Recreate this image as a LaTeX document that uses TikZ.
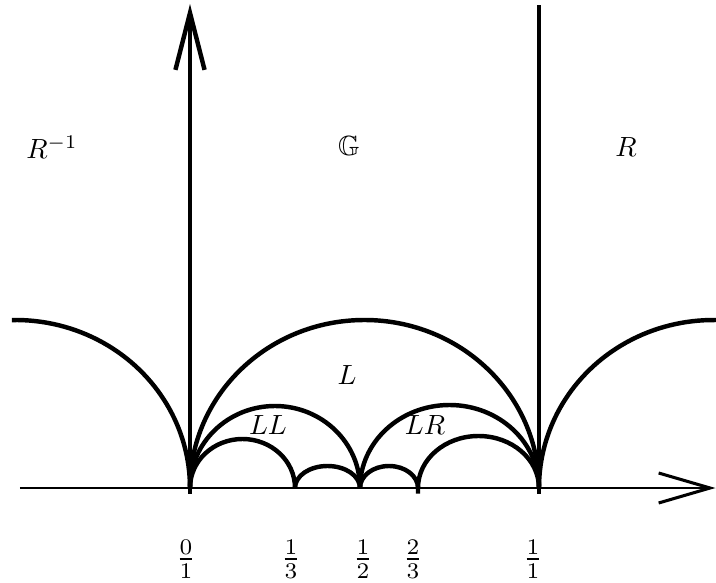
\documentclass[tikz,border=0pt]{standalone}
\usepackage{amsmath,amssymb}
\usetikzlibrary{arrows.meta}

\begin{document}
\begin{tikzpicture}[
  x=0.36pt,y=0.36pt,
  geod/.style={line width=1.6pt},
  axis/.style={line width=0.9pt,-{Straight Barb[length=18.5pt,width=10.8pt,line width=1.1pt]}},
  yaxis/.style={line width=1.6pt,-{Straight Barb[length=20.5pt,width=10.5pt]}},
  lbl/.style={inner sep=0pt},
  frac/.style={inner sep=0pt,scale=1.15}
]
\useasboundingbox (-190,-94) rectangle (526,488);

% points on the real line
\coordinate (p0) at (0,0);
\coordinate (p13) at (105,0);
\coordinate (p12) at (170,0);
\coordinate (p23) at (228,0);
\coordinate (p1) at (349,0);
\coordinate (xs) at (-170,0);
\coordinate (xe) at (525.5,0);
\coordinate (top0) at (0,484);
\coordinate (top1) at (349,483);

% axes
\draw[axis] (xs) -- (xe);
\draw[yaxis] ([yshift=-2pt]p0) -- (top0);
\draw[geod] ([yshift=-2pt]p1) -- (top1);

% geodesics
\draw[geod] (p0) arc[start angle=0,end angle=91.2,x radius=174.5,y radius=168];
\draw[geod] (p1) arc[start angle=180,end angle=89.2,x radius=174.5,y radius=168];
\draw[geod] (p0) arc[start angle=180,end angle=0,x radius=174.5,y radius=168];
\draw[geod] (p0) arc[start angle=180,end angle=0,x radius=85,y radius=82];
\draw[geod] (p12) arc[start angle=180,end angle=0,x radius=89.5,y radius=83];
\draw[geod] (p0) arc[start angle=180,end angle=0,x radius=52.5,y radius=49];
\draw[geod] (p13) arc[start angle=180,end angle=0,x radius=32.5,y radius=22];
\draw[geod] (p12) arc[start angle=180,end angle=0,x radius=29,y radius=22];
\draw[geod] ([yshift=-2pt]p23) -- (p23) arc[start angle=180,end angle=0,x radius=60.5,y radius=52];

% regions
\node[lbl] (rinv) at (-138,341) {$R^{-1}$};
\node[lbl] (gg) at (159,342) {$\mathbb{G}$};
\node[lbl] (rr) at (436,341) {$R$};
\node[lbl] (ll) at (157,113) {$L$};
\node[lbl] (lll) at (78,63) {$LL$};
\node[lbl] (llr) at (235,63) {$LR$};

% fractions
\node[frac] (f0) at (-4,-71) {$\frac{0}{1}$};
\node[frac] (f13) at (101,-71) {$\frac{1}{3}$};
\node[frac] (f12) at (173,-71) {$\frac{1}{2}$};
\node[frac] (f23) at (223,-71) {$\frac{2}{3}$};
\node[frac] (f1) at (343,-71) {$\frac{1}{1}$};
\end{tikzpicture}
\end{document}
